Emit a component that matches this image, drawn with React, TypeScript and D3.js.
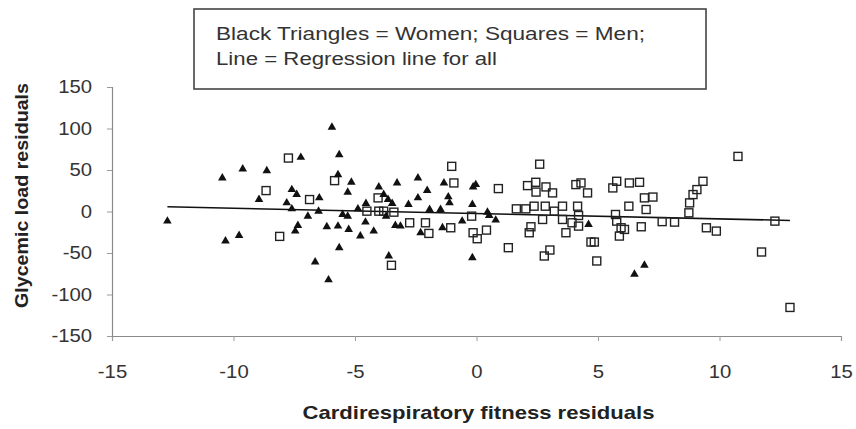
import React, { useRef, useEffect } from "react";
import * as d3 from "d3";

// women = black triangles  [fitness residual, glycemic load residual]
const women: [number, number][] = [
  [-12.72, -11.6], [-10.46, 40.4], [-10.33, -35.6], [-9.77, -28.8], [-9.62, 51.2],
  [-8.95, 14.4], [-8.63, 49.2], [-7.81, 10.4], [-7.6, 26.4], [-7.6, 3.2],
  [-7.4, 20.4], [-7.46, -23.6], [-7.35, -16.8], [-7.23, 65.2], [-6.94, -5.6],
  [-6.64, -60.8], [-6.5, 0.4], [-6.47, 16.4], [-6.16, -18.4], [-6.09, -82.4],
  [-5.95, 101.6], [-5.7, 44.4], [-5.7, -17.6], [-5.65, 68.4], [-5.65, -43.6],
  [-5.51, -3.6], [-5.3, 23.2], [-5.3, -5.6], [-5.26, -21.6], [-5.15, 35.2],
  [-4.88, 3.2], [-4.78, -29.6], [-4.57, -12.8], [-4.55, 9.6], [-4.23, -23.6],
  [-4.02, 29.6], [-3.82, 20.4], [-3.72, -5.6], [-3.64, 14.4], [-3.61, -53.6],
  [-3.47, 9.6], [-3.34, -16.8], [-3.27, 34.4], [-3.13, -17.6], [-2.8, 8.4],
  [-2.41, 40.4], [-2.41, 16.4], [-2.3, -25.6], [-2.03, 25.2], [-1.93, 2.4],
  [-1.48, 2.4], [-1.4, -19.6], [-1.34, 34.4], [-1.16, 17.6], [-1.11, 10.4],
  [-0.59, -11.6], [-0.17, 8.4], [-0.17, -55.6], [-0.14, 29.6], [-0.03, 32.4],
  [0.45, -0.8], [0.52, -4.8], [0.79, -10.4], [4.61, -15.6], [6.5, -75.6],
  [6.91, -64.8],
];

// men = open squares
const men: [number, number][] = [
  [-8.66, 25.2], [-8.1, -30], [-7.74, 64.4], [-6.87, 14.4], [-5.84, 37.2],
  [-4.51, 0.4], [-4.05, 16.4], [-4.02, 0.4], [-3.82, 0.4], [-3.5, -64.8],
  [-3.4, -0.8], [-2.75, -13.6], [-2.1, -13.6], [-1.96, -26.4], [-1.06, -19.6],
  [-1.02, 54.4], [-0.93, 34.4], [-0.2, -5.6], [-0.14, -25.6], [0.03, -32.8],
  [0.41, -22.4], [0.9, 27.6], [1.31, -43.6], [1.64, 3.2], [2.03, 3.2],
  [2.1, 31.2], [2.17, -25.6], [2.24, -18.4], [2.37, 6.4], [2.44, 35.2],
  [2.45, 23.4], [2.6, 57], [2.72, -9.6], [2.79, -53.6], [2.83, 6.4],
  [2.86, 29.6], [3.02, -46.4], [3.13, 22.4], [3.2, 0.4], [3.54, 6.4],
  [3.54, -9.6], [3.68, -25.6], [3.93, -13.6], [4.09, 32.4], [4.16, 6.4],
  [4.2, -4.8], [4.2, -17.6], [4.3, 34.4], [4.57, 22.4], [4.71, -36.8],
  [4.85, -36.8], [4.95, -59.6], [5.61, 28.4], [5.72, -3.6], [5.77, 36.4],
  [5.77, -11.6], [5.88, -29.6], [5.95, -19.6], [6.09, -21.6], [6.27, 6.4],
  [6.29, 34.4], [6.71, 35.2], [6.78, -18.4], [6.91, 16.4], [6.98, 2.4],
  [7.26, 17.4], [7.64, -12.2], [8.15, -12.8], [8.74, -1.6], [8.77, 10.4],
  [8.91, 20.4], [9.07, 26.4], [9.32, 36.4], [9.46, -19.6], [9.87, -23.6],
  [10.76, 66.4], [11.73, -48.8], [12.28, -11.6], [12.9, -115.6],
];

// regression line for all
const regression = { intercept: -2.5, slope: -0.64 };

const xTicks = [-15, -10, -5, 0, 5, 10, 15];
const yTicks = [-150, -100, -50, 0, 50, 100, 150];

const legendLines = [
  "Black Triangles = Women; Squares = Men;",
  "Line = Regression line for all",
];
const xTitle = "Cardirespiratory fitness residuals";
const yTitle = "Glycemic load residuals";

const App = () => {
  const svgRef = useRef<SVGSVGElement>(null);
  const width = 856;
  const height = 429;

  useEffect(() => {
    const svg = d3.select(svgRef.current);
    svg.selectAll("*").remove();

    const x_scale = d3.scaleLinear().domain([-15, 15]).range([112, 841]);
    const y_scale = d3.scaleLinear().domain([-150, 150]).range([336, 87]);

    const font = "'Liberation Sans', Arial, sans-serif";

    // axes
    const x_axis = d3.axisBottom(x_scale).tickValues(xTicks)
      .tickSize(5).tickPadding(25).tickFormat(d => String(d));
    const y_axis = d3.axisLeft(y_scale).tickValues(yTicks)
      .tickSize(5).tickPadding(15).tickFormat(d => String(d));

    const gx = svg.append("g")
      .attr("transform", `translate(0, ${y_scale(-150)})`)
      .call(x_axis);
    const gy = svg.append("g")
      .attr("transform", `translate(${x_scale(-15)}, 0)`)
      .call(y_axis);

    [gx, gy].forEach(g => {
      g.select(".domain").attr("stroke", "#8a8a8a").attr("stroke-width", 1.2);
      g.selectAll(".tick line").attr("stroke", "#9a9a9a");
      g.selectAll<SVGTextElement, unknown>(".tick text")
        .attr("font-family", font)
        .attr("font-size", 17.5)
        .attr("fill", "#333")
        // picture is a little stretched sideways
        .each(function () {
          const w = this.getComputedTextLength();
          d3.select(this).attr("textLength", w * 1.16).attr("lengthAdjust", "spacingAndGlyphs");
        });
    });

    // regression line
    const xr = d3.extent([...women, ...men], d => d[0]) as [number, number];
    svg.append("path")
      .datum(xr.map(v => [v, regression.intercept + regression.slope * v]))
      .attr("fill", "none")
      .attr("stroke", "#111")
      .attr("stroke-width", 1.6)
      .attr("d", d3.line<number[]>()
        .x(d => x_scale(d[0]))
        .y(d => y_scale(d[1])));

    // men: open squares
    svg.append("g")
      .selectAll("rect")
      .data(men)
      .join("rect")
      .attr("x", d => x_scale(d[0]) - 4)
      .attr("y", d => y_scale(d[1]) - 4)
      .attr("width", 8)
      .attr("height", 8)
      .attr("fill", "none")
      .attr("stroke", "#222")
      .attr("stroke-width", 1.4);

    // women: black triangles
    const tri = d3.symbol().type(d3.symbolTriangle).size(32);
    svg.append("g")
      .selectAll("path")
      .data(women)
      .join("path")
      .attr("transform", d => `translate(${x_scale(d[0])}, ${y_scale(d[1])})`)
      .attr("d", tri)
      .attr("fill", "#111");

    // legend box
    svg.append("rect")
      .attr("x", 194).attr("y", 9)
      .attr("width", 512).attr("height", 80)
      .attr("fill", "#fff")
      .attr("stroke", "#444")
      .attr("stroke-width", 1.6);

    const legendLengths = [429, 281];
    svg.append("g")
      .selectAll("text")
      .data(legendLines)
      .join("text")
      .attr("x", 216)
      .attr("y", (d, i) => 40 + i * 25)
      .attr("font-family", font)
      .attr("font-size", 17.5)
      .attr("fill", "#333")
      .attr("textLength", (d, i) => legendLengths[i])
      .attr("lengthAdjust", "spacingAndGlyphs")
      .text(d => d);

    // axis titles
    svg.append("text")
      .attr("x", 478.5)
      .attr("y", 419)
      .attr("text-anchor", "middle")
      .attr("font-family", font)
      .attr("font-size", 18.5)
      .attr("font-weight", "bold")
      .attr("fill", "#222")
      .attr("textLength", 352)
      .attr("lengthAdjust", "spacingAndGlyphs")
      .text(xTitle);

    svg.append("text")
      .attr("transform", "translate(28, 195.5) rotate(-90)")
      .attr("text-anchor", "middle")
      .attr("font-family", font)
      .attr("font-size", 19)
      .attr("font-weight", "bold")
      .attr("fill", "#222")
      .attr("textLength", 225)
      .attr("lengthAdjust", "spacingAndGlyphs")
      .text(yTitle);
  });

  return (
    <div style={{ position: "absolute", left: 0, top: 0 }}>
      <svg ref={svgRef} width={width} height={height} style={{ display: "block", background: "#fff" }}>
      </svg>
    </div>
  );
};

export default App;
